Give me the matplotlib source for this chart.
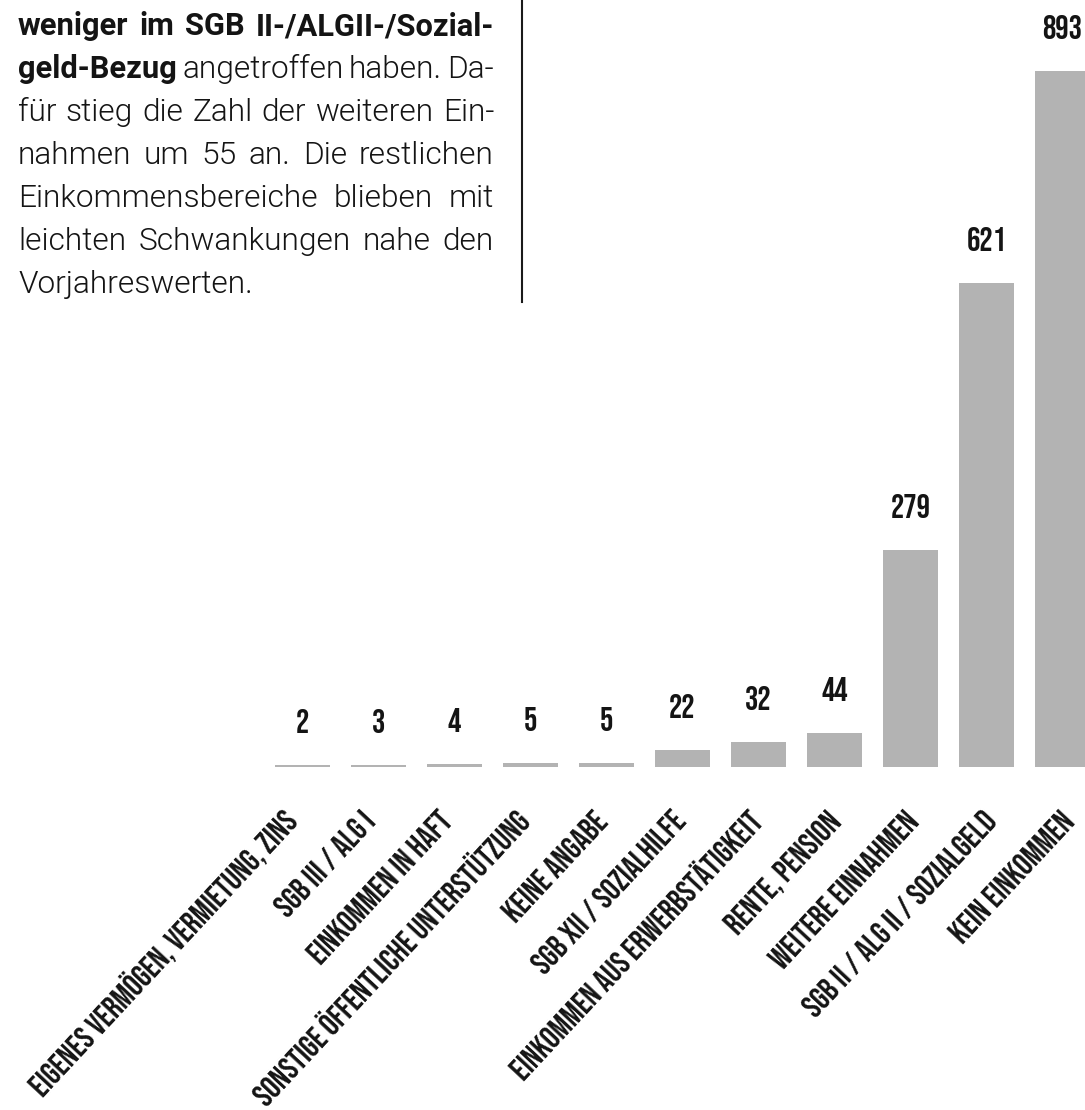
import matplotlib
matplotlib.use("Agg")
import matplotlib.pyplot as plt

# Einkommensarten, aufsteigend nach Anzahl
categories = [
    "Eigenes Vermögen, Vermietung, Zins",
    "SGB III / ALG I",
    "Einkommen in Haft",
    "Sonstige öffentliche Unterstützung",
    "Keine Angabe",
    "SGB XII / Sozialhilfe",
    "Einkommen aus Erwerbstätigkeit",
    "Rente, Pension",
    "Weitere Einnahmen",
    "SGB II / ALG II / Sozialgeld",
    "Kein Einkommen",
]
counts = [2, 3, 4, 5, 5, 22, 32, 44, 279, 621, 893]

# Fließtext links oben: (Wort-Gruppen, Gewicht) je Zeile, True = Blocksatz
text_lines = [
    ([("insgesamt 54 Personen", "bold")], True),
    ([("weniger im SGB II-/ALGII-/Sozial-", "bold")], True),
    ([("geld-Bezug", "bold"), ("angetroffen haben. Da-", "light")], True),
    ([("für stieg die Zahl der weiteren Ein-", "light")], True),
    ([("nahmen um 55 an. Die restlichen", "light")], True),
    ([("Einkommensbereiche blieben mit", "light")], True),
    ([("leichten Schwankungen nahe den", "light")], True),
    ([("Vorjahreswerten.", "light")], False),
]

W, H = 1085, 1110
BAR_COLOR = "#b3b3b3"
TEXT_COLOR = "#141414"
PT = 72 / 100  # Punkt je Pixel bei 100 dpi

fig = plt.figure(figsize=(W / 100, H / 100), dpi=100)
fig.patch.set_facecolor("white")

# Diagramm: Grundlinie bei y=767 px, 76 px Raster, Balken 55 px breit
base_px = 767
step = 76
x0_px = 302.5
px_per_unit = 696 / 893
ax = fig.add_axes([0, (H - base_px) / H, 1, base_px / H])
ax.set_xlim(-x0_px / step, (W - x0_px) / step)
ax.set_ylim(0, base_px / px_per_unit)
ax.axis("off")

xs = list(range(len(counts)))
ax.bar(xs, counts, width=55 / step, color=BAR_COLOR, linewidth=0)

for x, v in zip(xs, counts):
    ax.annotate(str(v), (x, v), xytext=(0, 23), textcoords="offset points",
                ha="center", va="baseline", fontsize=24, family="Bebas Neue",
                color=TEXT_COLOR)

# Achsenbeschriftung schräg, rechtsbündig unter den Balken; etwas engeres Raster
n = len(categories)
for x, cat in zip(xs, categories):
    dx = (14 - 1.7 * (n - 1 - x)) * PT
    ax.annotate(cat.upper(), (x, 0), xytext=(dx, -56 * PT), textcoords="offset points",
                ha="right", va="baseline", rotation=47, rotation_mode="anchor",
                fontsize=23, family="Bebas Neue", color=TEXT_COLOR,
                annotation_clip=False)

# senkrechte Trennlinie rechts vom Text
fig.add_artist(plt.Line2D([522 / W, 522 / W], [1, (H - 302) / H],
                          transform=fig.transFigure, color="#1a1a1a", linewidth=1.5))

# Blocksatz von Hand: Wörter einzeln setzen und Zwischenräume verteilen
left_px, right_px = 18, 494
first_base, line_gap = -8, 43
sizes = {"bold": 22.2, "light": 22.8}
renderer = fig.canvas.get_renderer()

for row, (parts, justify) in enumerate(text_lines):
    y = (H - (first_base + row * line_gap)) / H
    words = []
    for chunk, weight in parts:
        for w in chunk.split():
            words.append((w, weight))
    items = []
    for w, weight in words:
        t = fig.text(0, y, w, fontsize=sizes[weight], family="Roboto",
                     weight=700 if weight == "bold" else 300,
                     color=TEXT_COLOR, va="baseline", ha="left")
        items.append((t, t.get_window_extent(renderer).width))
    total = sum(wd for _, wd in items)
    space = items[0][0].get_fontsize() / PT * 0.25
    if justify and len(items) > 1:
        space = (right_px - left_px - total) / (len(items) - 1)
    cur = left_px
    for t, wd in items:
        t.set_x(cur / W)
        cur += wd + space

fig.savefig("out.png", dpi=100, facecolor="white")
